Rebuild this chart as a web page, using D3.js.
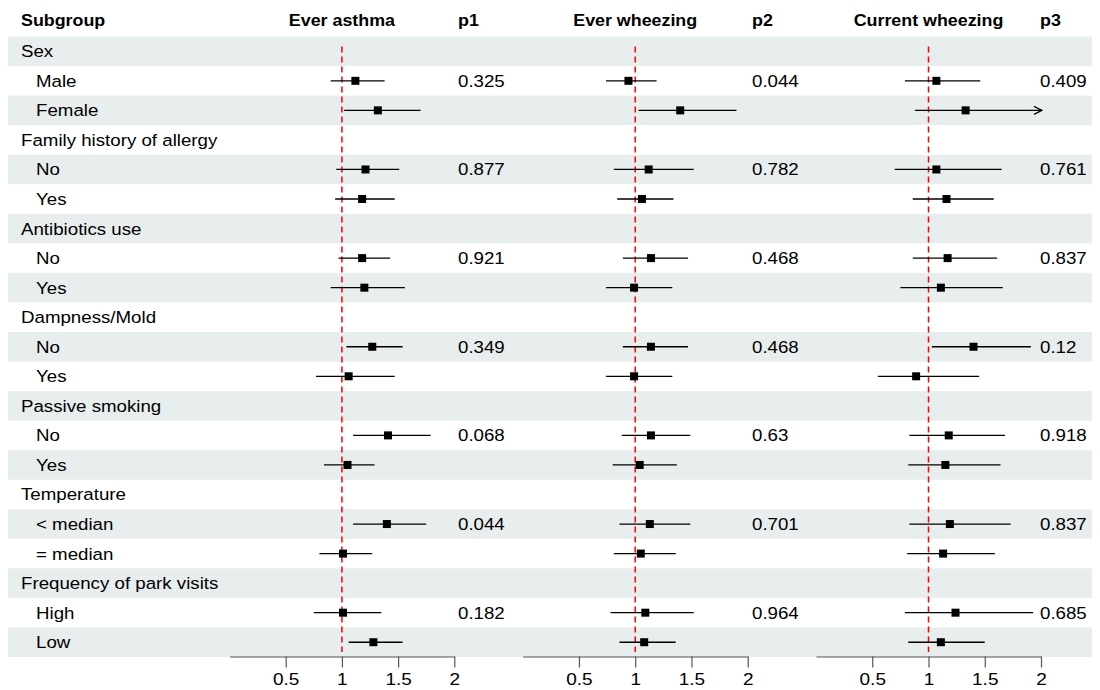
<!DOCTYPE html>
<html>
<head>
<meta charset="utf-8">
<script src="https://cdn.jsdelivr.net/npm/d3@7"></script>
<style>
  body { margin: 0; background: #fff; }
  svg { font-family: 'Liberation Sans', Arial, sans-serif; }
</style>
</head>
<body>
<div id="chart"></div>
<script>
// subgroups
const groups = ['Sex', 'Family history of allergy', 'Antibiotics use', 'Dampness/Mold',
  'Passive smoking', 'Temperature', 'Frequency of park visits'];
const levels = [['Male', 'Female'], ['No', 'Yes'], ['No', 'Yes'], ['No', 'Yes'],
  ['No', 'Yes'], ['< median', '= median'], ['High', 'Low']];

// estimates and CI per outcome (one per level row, top to bottom)
const asthmaEst = [1.12, 1.32, 1.21, 1.18, 1.18, 1.20, 1.27, 1.06, 1.41, 1.05, 1.40, 1.01, 1.01, 1.28];
const asthmaLo  = [0.90, 1.02, 0.95, 0.94, 0.97, 0.90, 1.04, 0.77, 1.10, 0.84, 1.10, 0.80, 0.75, 1.06];
const asthmaHi  = [1.38, 1.70, 1.51, 1.47, 1.43, 1.56, 1.54, 1.47, 1.79, 1.29, 1.75, 1.27, 1.35, 1.54];

const wheezeEst = [0.94, 1.40, 1.12, 1.06, 1.14, 0.99, 1.14, 0.99, 1.14, 1.04, 1.13, 1.05, 1.09, 1.08];
const wheezeLo  = [0.74, 1.03, 0.81, 0.84, 0.89, 0.74, 0.89, 0.74, 0.88, 0.80, 0.86, 0.81, 0.78, 0.86];
const wheezeHi  = [1.19, 1.90, 1.52, 1.34, 1.47, 1.33, 1.47, 1.33, 1.49, 1.37, 1.49, 1.36, 1.52, 1.36];

const currentEst = [1.07, 1.33, 1.07, 1.16, 1.17, 1.11, 1.40, 0.89, 1.18, 1.15, 1.19, 1.13, 1.24, 1.11];
const currentLo  = [0.79, 0.88, 0.70, 0.86, 0.86, 0.75, 1.03, 0.55, 0.83, 0.82, 0.83, 0.81, 0.79, 0.82];
const currentHi  = [1.46, 2.35, 1.65, 1.58, 1.61, 1.66, 1.91, 1.45, 1.68, 1.64, 1.73, 1.59, 1.93, 1.50];

// p values, one per group
const p1 = ['0.325', '0.877', '0.921', '0.349', '0.068', '0.044', '0.182'];
const p2 = ['0.044', '0.782', '0.468', '0.468', '0.63', '0.701', '0.964'];
const p3 = ['0.409', '0.761', '0.837', '0.12', '0.918', '0.837', '0.685'];

const tickVals = [0.5, 1, 1.5, 2];

const width = 1100, height = 690;
const fs = 17, sx = 1.1;   // text is a bit wide in the original

// build row list
let rows = [];
let k = 0;
groups.forEach((g, gi) => {
  rows.push({ label: g, group: true });
  levels[gi].forEach((l, li) => {
    rows.push({ label: l, group: false, idx: k, pGroup: li === 0 ? gi : null });
    k++;
  });
});

const panels = [
  { title: 'Ever asthma', ptitle: 'p1', est: asthmaEst, lo: asthmaLo, hi: asthmaHi, p: p1, range: [229.5, 454.3], px: 458 },
  { title: 'Ever wheezing', ptitle: 'p2', est: wheezeEst, lo: wheezeLo, hi: wheezeHi, p: p2, range: [522.7, 747.7], px: 752 },
  { title: 'Current wheezing', ptitle: 'p3', est: currentEst, lo: currentLo, hi: currentHi, p: p3, range: [816, 1041], px: 1040 }
];

const svg = d3.select('#chart').append('svg')
  .attr('width', width)
  .attr('height', height);

svg.append('defs').append('marker')
  .attr('id', 'arrow')
  .attr('viewBox', '0 0 10 10')
  .attr('refX', 9).attr('refY', 5)
  .attr('markerWidth', 10).attr('markerHeight', 10)
  .attr('markerUnits', 'userSpaceOnUse')
  .attr('orient', 'auto')
  .append('path')
  .attr('d', 'M1,1 L9,5 L1,9')
  .attr('fill', 'none')
  .attr('stroke', '#000')
  .attr('stroke-width', 1.3);

const y = d3.scaleBand()
  .domain(d3.range(rows.length))
  .range([36.5, 657]);

const tr = (x, yy, s) => 'translate(' + x + ',' + yy + ') scale(' + s + ',1)';

// row bands
svg.selectAll('rect.band')
  .data(rows.map((r, i) => i).filter(i => i % 2 === 0))
  .enter().append('rect')
  .attr('class', 'band')
  .attr('x', 8)
  .attr('width', 1084)
  .attr('y', d => y(d))
  .attr('height', y.bandwidth())
  .attr('fill', '#e8eded');

// headers
const headerY = 26;
svg.append('text')
  .attr('transform', tr(21, headerY, 1.05))
  .attr('font-size', fs).attr('font-weight', 'bold')
  .text('Subgroup');

// subgroup labels
svg.selectAll('text.lab')
  .data(rows)
  .enter().append('text')
  .attr('class', 'lab')
  .attr('transform', (d, i) => tr(d.group ? 21 : 36, y(i) + y.bandwidth() / 2 + 6, sx))
  .attr('font-size', fs)
  .attr('fill', '#000')
  .text(d => d.label);

panels.forEach(p => {
  const x = d3.scaleLinear().domain([0, 2]).range(p.range);
  const g = svg.append('g');

  g.append('text')
    .attr('transform', tr(x(1), headerY, 1.05))
    .attr('text-anchor', 'middle')
    .attr('font-size', fs).attr('font-weight', 'bold')
    .text(p.title);

  g.append('text')
    .attr('transform', tr(p.px, headerY, 1.05))
    .attr('font-size', fs).attr('font-weight', 'bold')
    .text(p.ptitle);

  // reference line at 1
  g.append('line')
    .attr('x1', x(1)).attr('x2', x(1))
    .attr('y1', y(0) + 10).attr('y2', y(rows.length - 1) + y.bandwidth() - 5)
    .attr('stroke', '#ff0000')
    .attr('stroke-width', 1.5)
    .attr('stroke-dasharray', '6,4');

  const sub = rows.filter(r => !r.group);

  // CI lines
  g.selectAll('line.ci')
    .data(sub)
    .enter().append('line')
    .attr('class', 'ci')
    .attr('x1', d => x(Math.max(0, p.lo[d.idx])))
    .attr('x2', d => x(Math.min(2, p.hi[d.idx])) + (p.hi[d.idx] > 2 ? 1 : 0))
    .attr('y1', d => y(rows.indexOf(d)) + y.bandwidth() / 2)
    .attr('y2', d => y(rows.indexOf(d)) + y.bandwidth() / 2)
    .attr('stroke', '#000')
    .attr('stroke-width', 1.3)
    .attr('marker-end', d => p.hi[d.idx] > 2 ? 'url(#arrow)' : null);

  // point estimates
  const s = 8;
  g.selectAll('rect.pt')
    .data(sub)
    .enter().append('rect')
    .attr('class', 'pt')
    .attr('x', d => x(p.est[d.idx]) - s / 2)
    .attr('y', d => y(rows.indexOf(d)) + y.bandwidth() / 2 - s / 2)
    .attr('width', s).attr('height', s)
    .attr('fill', '#000');

  // p values
  g.selectAll('text.pv')
    .data(sub.filter(d => d.pGroup !== null))
    .enter().append('text')
    .attr('class', 'pv')
    .attr('transform', d => tr(p.px, y(rows.indexOf(d)) + y.bandwidth() / 2 + 6, sx))
    .attr('font-size', fs)
    .text(d => p.p[d.pGroup]);

  // axis
  const ax = g.append('g')
    .attr('transform', 'translate(0,' + 656.5 + ')')
    .call(d3.axisBottom(x)
      .tickValues(tickVals)
      .tickFormat(d3.format('~g'))
      .tickSize(11)
      .tickSizeOuter(0)
      .tickPadding(5));
  ax.select('.domain').attr('stroke', '#555').attr('stroke-width', 1.2);
  ax.selectAll('.tick line').attr('stroke', '#555').attr('stroke-width', 1.2);
  ax.selectAll('.tick text')
    .attr('font-size', 17)
    .attr('font-family', "'Liberation Sans', Arial, sans-serif")
    .attr('transform', 'scale(1.12,1)')
    .attr('fill', '#000');
});
</script>
</body>
</html>
